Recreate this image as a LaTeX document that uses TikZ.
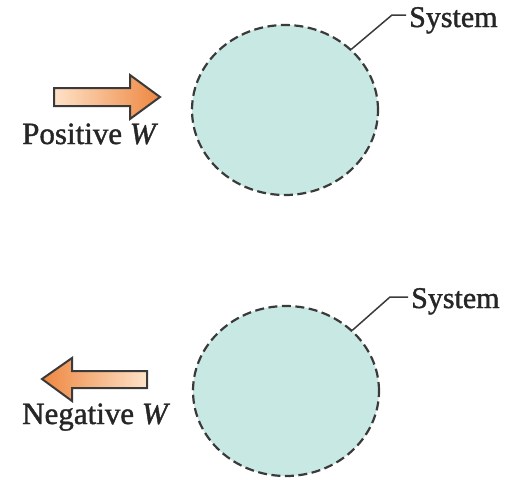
\documentclass[tikz,border=0pt]{standalone}
\usepackage{fontspec}
\setmainfont{Liberation Serif}
\newfontfamily\semib[FakeBold=1.3]{Liberation Serif}
\usetikzlibrary{shapes.geometric}
\definecolor{sysfill}{HTML}{C8E8E3}
\definecolor{edge}{HTML}{3A3A3A}
\definecolor{arrlight}{HTML}{FEE2C8}
\definecolor{arrdark}{HTML}{EE8740}
\definecolor{txt}{HTML}{262626}
\tikzset{
  sysbox/.style={ellipse, fill=sysfill, draw=edge, line width=2.2pt,
    dash pattern=on 9pt off 4.5pt, minimum width=186pt, minimum height=170pt, inner sep=0pt},
  lbl/.style={font=\semib\fontsize{31}{36}\selectfont, text=txt, inner sep=0pt},
  syslbl/.style={font=\semib\fontsize{30}{36}\selectfont, text=txt, inner xsep=3pt, inner ysep=0pt, anchor=base west},
  leader/.style={draw=edge, line width=1.5pt},
  workarrow/.style={draw=edge, line width=2pt, line join=miter}
}
\begin{document}
\begin{tikzpicture}[x=1pt,y=-1pt]
\useasboundingbox (0,0) rectangle (507,480);
% top panel
\node[sysbox] (c1) at (285,110) {};
\node[syslbl] (s1) at (406,27) {System};
\coordinate (k1) at (392,15);
\draw[leader] (c1.north east) -- (k1) -- (s1.west |- k1);
\shadedraw[workarrow, left color=arrlight, right color=arrdark]
  (54,88) -- (130,88) -- (130,75) -- (160,97) -- (130,119) -- (130,106) -- (54,106) -- cycle;
\node[lbl, anchor=base west] (p1) at (22,144) {Positive \textit{W}};
% bottom panel
\node[sysbox] (c2) at (286,391) {};
\node[syslbl] (s2) at (408,308) {System};
\coordinate (k2) at (390,297);
\draw[leader] (c2.north east) -- (k2) -- (s2.west |- k2);
\shadedraw[workarrow, left color=arrdark, right color=arrlight]
  (147,371) -- (72,371) -- (72,358) -- (42,379) -- (72,401) -- (72,388) -- (147,388) -- cycle;
\node[lbl, anchor=base west] (n1) at (22,424) {Negative \textit{W}};
\end{tikzpicture}
\end{document}
